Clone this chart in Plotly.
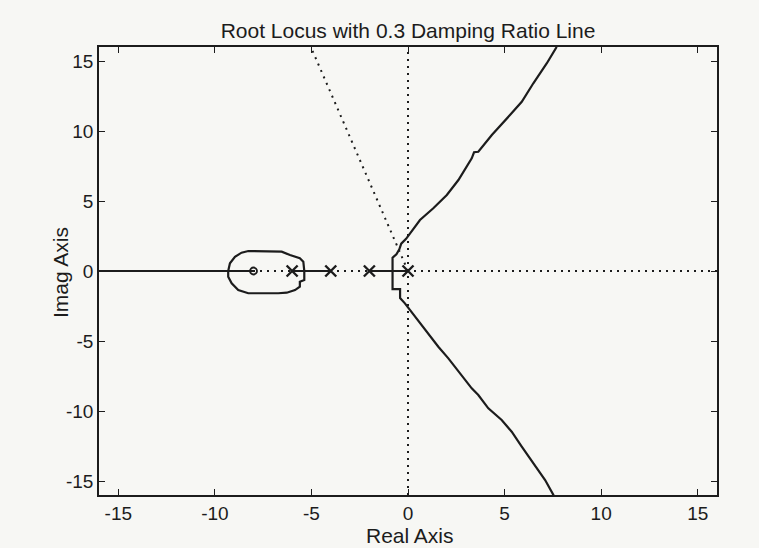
import plotly.graph_objects as go

# ---- data ----
poles_re = [0, -2, -4, -6]
zeros_re = [-8]

# real-axis locus segments (start, end)
real_axis_segments = [(-16.5, -8.0), (-6.0, -4.0), (-2.0, 0.0)]

# loop around the zero (break-away ~ -5.37, break-in ~ -9.31)
loop_re = [-9.31, -9.22, -8.96, -8.62, -8.27, -7.41, -6.54, -6.11, -5.60, -5.42, -5.37,
           -5.37, -5.60, -5.60, -5.85, -6.28, -6.72, -8.27, -8.79, -9.13, -9.31, -9.31]
loop_im = [0.0, 0.55, 1.02, 1.31, 1.43, 1.43, 1.38, 1.14, 0.91, 0.66, 0.0,
           -0.64, -0.76, -1.12, -1.36, -1.55, -1.59, -1.59, -1.36, -0.88, -0.41, 0.0]

# upper complex branch
upper_re = [-0.80, -0.80, -0.60, -0.45, -0.35, -0.10, 0.62, 1.31, 2.01, 2.61, 3.30, 3.42, 3.64,
            4.34, 5.28, 5.89, 6.49, 7.19, 7.67, 7.80]
upper_im = [0.0, 0.95, 1.20, 1.55, 1.95, 2.30, 3.64, 4.48, 5.43, 6.50, 8.05, 8.48, 8.52,
            9.71, 11.14, 12.09, 13.41, 14.84, 15.95, 16.5]

# lower complex branch
lower_re = [-0.80, -0.80, -0.41, -0.41, -0.16, 0.36, 0.88, 1.57, 2.09, 2.61, 3.30, 3.64,
            4.16, 4.85, 5.37, 5.89, 6.58, 7.10, 7.53, 7.62]
lower_im = [0.0, -1.29, -1.29, -1.93, -2.31, -3.26, -4.21, -5.41, -6.24, -7.19, -8.38, -8.86,
            -9.81, -10.64, -11.48, -12.55, -13.86, -14.93, -16.0, -16.5]

# 0.3 damping ratio line (upper half), from origin to top edge
zeta_re = [0.0, -5.03]
zeta_im = [0.0, 16.0]

x_ticks = [-15, -10, -5, 0, 5, 10, 15]
y_ticks = [-15, -10, -5, 0, 5, 10, 15]
axis_range = [-16, 16]

INK = "#1c1c1c"
BG = "#f7f7f4"
FONT = "Liberation Sans, Arial, Helvetica, sans-serif"

W, H = 759, 548
L, R, T, B = 99, 42, 47, 53
PW, PH = W - L - R, H - T - B

fig = go.Figure()

dot = dict(color=INK, width=2, dash="2px,5px")
fig.add_trace(go.Scatter(x=[axis_range[0], axis_range[1]], y=[0, 0], mode="lines", line=dot,
                         hoverinfo="skip", showlegend=False))
fig.add_trace(go.Scatter(x=[0, 0], y=[axis_range[0], axis_range[1]], mode="lines", line=dot,
                         hoverinfo="skip", showlegend=False))
fig.add_trace(go.Scatter(x=zeta_re, y=zeta_im, mode="lines", line=dot,
                         hoverinfo="skip", showlegend=False))

solid = dict(color=INK, width=2.2)
for a, b in real_axis_segments:
    fig.add_trace(go.Scatter(x=[a, b], y=[0, 0], mode="lines", line=solid, showlegend=False))
fig.add_trace(go.Scatter(x=loop_re, y=loop_im, mode="lines", line=solid, showlegend=False))
fig.add_trace(go.Scatter(x=upper_re, y=upper_im, mode="lines", line=solid, showlegend=False))
fig.add_trace(go.Scatter(x=lower_re, y=lower_im, mode="lines", line=solid, showlegend=False))

fig.add_trace(go.Scatter(x=poles_re, y=[0] * len(poles_re), mode="markers",
                         marker=dict(symbol="x-thin", size=11, line=dict(color=INK, width=2.4)),
                         showlegend=False))
fig.add_trace(go.Scatter(x=zeros_re, y=[0] * len(zeros_re), mode="markers",
                         marker=dict(symbol="circle-open", size=7, color=INK, line=dict(width=1.8)),
                         showlegend=False))

axis_common = dict(range=axis_range, showgrid=False, zeroline=False, showline=True,
                   linecolor=INK, linewidth=1.6, mirror="allticks", ticks="inside",
                   ticklen=6, tickwidth=1.4, tickcolor=INK,
                   tickfont=dict(family=FONT, size=19, color=INK))

fig.update_layout(
    width=W, height=H,
    margin=dict(l=L, r=R, t=T, b=B),
    paper_bgcolor=BG, plot_bgcolor=BG,
    title=dict(text="Root Locus with 0.3 Damping Ratio Line", x=408 / W, xanchor="center",
               y=1 - 31 / H, yanchor="middle", yref="container",
               font=dict(family=FONT, size=21, color=INK)),
    xaxis=dict(tickvals=x_ticks, ticktext=[str(v) for v in x_ticks], **axis_common),
    yaxis=dict(tickvals=y_ticks, ticktext=[str(v) for v in y_ticks], **axis_common),
    annotations=[
        dict(text="Real Axis", x=(410 - L) / PW, y=(H - B - 535) / PH, xref="paper", yref="paper",
             showarrow=False, xanchor="center", yanchor="middle",
             font=dict(family=FONT, size=21, color=INK)),
        dict(text="Imag Axis", x=(60 - L) / PW, y=(H - B - 273) / PH, xref="paper", yref="paper",
             showarrow=False, textangle=-90, xanchor="center", yanchor="middle",
             font=dict(family=FONT, size=21, color=INK)),
    ],
)

fig.write_html(
    "out.html",
    config={"displayModeBar": False},
    post_script="document.body.style.margin='0';document.body.style.background='%s';"
                "document.documentElement.style.background='%s';" % (BG, BG),
)
